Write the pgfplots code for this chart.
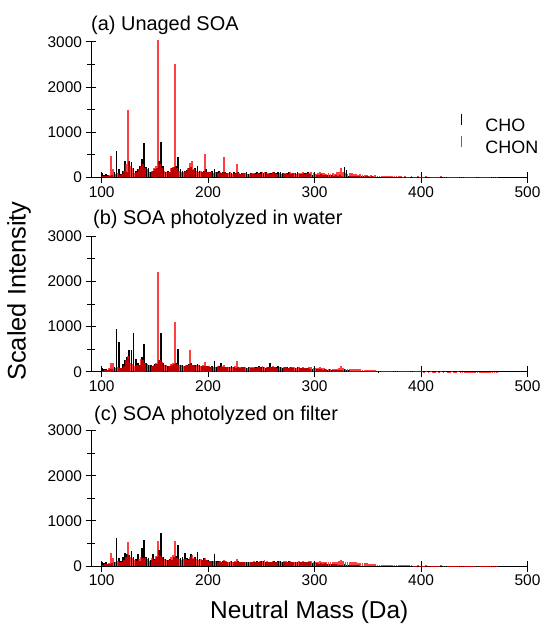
\documentclass[border=0pt]{standalone}
\usepackage{pgfplots}
\pgfplotsset{compat=1.18}
\usepackage{pgfplotstable}
\usepackage{fontspec}
\setmainfont{Liberation Sans}

% CHO (even nominal masses): m, panel a, panel b, panel c
\pgfplotstableread{
m a b c
100 90 80 80
102 60 70 70
104 80 60 80
106 50 40 40
108 40 50 50
110 60 60 60
112 120 100 100
114 593 948 615
116 185 652 185
118 80 90 110
120 150 180 200
122 370 260 296
124 120 330 260
126 370 481 250
128 330 481 333
130 200 852 200
132 150 274 150
134 180 200 259
136 250 150 120
138 407 318 393
140 770 607 570
142 222 200 200
144 210 160 180
146 120 150 130
148 150 130 259
150 180 170 160
152 200 180 200
154 355 260 356
156 778 852 741
158 260 200 200
160 130 140 150
162 150 120 130
164 120 130 160
166 200 150 140
168 220 180 210
170 250 200 220
172 459 496 474
174 180 160 170
176 150 140 200
178 140 130 296
180 170 150 180
182 200 170 160
184 230 190 259
186 160 150 150
188 200 160 200
190 260 180 318
192 140 140 150
194 120 130 140
196 150 130 180
198 180 120 130
200 130 120 130
202 110 110 120
204 140 130 110
206 185 230 260
208 120 110 120
210 150 120 110
212 100 190 100
214 120 110 120
216 110 100 110
218 90 100 90
220 130 110 100
222 100 120 110
224 120 100 100
226 90 90 90
228 110 100 110
230 80 90 90
232 100 110 100
234 90 100 80
236 110 90 100
238 80 100 90
240 100 80 100
242 70 90 80
244 90 100 90
246 120 110 110
248 100 120 100
250 130 110 120
252 90 100 110
254 110 90 100
256 80 110 90
258 100 185 100
260 90 100 90
262 120 110 110
264 90 100 90
266 130 120 120
268 110 100 110
270 100 90 100
272 80 110 90
274 90 100 100
276 110 90 110
278 80 100 80
280 100 90 90
282 90 80 100
284 120 100 90
286 70 80 80
288 80 90 90
290 100 80 80
292 90 90 90
294 110 80 100
296 70 70 80
298 60 60 70
300 70 60 60
302 60 50 60
304 50 60 50
306 70 50 60
308 50 40 50
310 60 50 60
312 50 40 40
314 60 50 50
316 50 40 40
318 40 30 40
320 50 40 40
322 40 30 30
324 50 40 30
326 40 30 30
328 220 50 40
330 170 30 30
332 40 30 20
334 30 20 20
336 40 20 20
338 30 20 20
340 25 15 15
342 30 15 15
344 20 10 10
346 25 15 10
348 20 10 10
350 20 10 10
352 15 10 10
354 20 10 10
356 15 10 10
358 15 10 10
360 10 5 5
}\chotab

% CHON (odd nominal masses): m, panel a, panel b, panel c
\pgfplotstableread{
m a b c
101 20 20 20
103 30 30 40
105 40 40 40
107 60 80 60
109 474 185 281
111 185 185 180
113 80 90 90
115 100 100 120
117 60 80 90
119 80 80 80
121 150 120 140
123 300 250 200
125 1481 355 533
127 250 200 200
129 200 180 180
131 100 120 130
133 120 140 120
135 180 150 150
137 250 280 200
139 300 250 190
141 200 200 170
143 180 180 150
145 120 140 120
147 150 130 180
149 200 150 140
151 250 200 220
153 3052 2215 563
155 300 250 220
157 200 220 200
159 150 150 150
161 130 140 130
163 120 120 140
165 200 180 200
167 240 200 250
169 2518 1104 548
171 200 180 180
173 150 160 150
175 130 140 140
177 120 130 150
179 150 140 160
181 200 150 140
183 326 474 200
185 370 160 240
187 180 140 170
189 150 150 150
191 130 140 140
193 140 130 150
195 120 140 140
197 525 207 180
199 130 130 130
201 120 120 120
203 110 110 120
205 100 110 110
207 120 100 120
209 90 120 100
211 110 110 110
213 100 120 100
215 451 150 130
217 100 110 110
219 90 100 100
221 110 110 110
223 80 100 100
225 100 120 110
227 303 230 160
229 90 110 100
231 80 100 90
233 100 110 100
235 90 100 90
237 70 90 80
239 80 100 90
241 100 110 100
243 90 100 110
245 70 90 90
247 100 110 100
249 80 100 110
251 110 120 120
253 120 110 130
255 90 100 110
257 100 110 100
259 80 100 90
261 110 120 110
263 90 100 100
265 70 90 90
267 100 110 110
269 80 100 100
271 90 100 110
273 100 110 120
275 80 90 100
277 110 100 110
279 90 100 100
281 100 110 100
283 80 90 90
285 100 100 110
287 90 90 100
289 110 100 110
291 70 80 90
293 90 90 100
295 100 100 110
297 110 110 110
299 90 90 100
301 80 80 90
303 100 90 100
305 110 100 110
307 90 80 100
309 100 80 100
311 80 70 90
313 90 70 100
315 70 60 90
317 100 70 100
319 80 60 90
321 110 70 100
323 130 80 110
325 200 120 130
327 120 80 110
329 90 70 100
331 80 60 90
333 100 70 100
335 90 60 90
337 80 60 80
339 70 50 80
341 60 50 70
343 70 50 70
345 60 40 60
347 50 40 60
349 60 40 60
351 40 30 50
353 50 30 50
355 40 30 40
357 45 30 40
359 35 25 30
361 40 25 35
363 30 20 30
365 35 20 30
367 30 20 25
369 25 15 25
371 30 15 20
373 25 15 20
375 20 15 20
377 25 15 20
379 20 10 20
381 20 10 15
383 15 10 15
385 20 10 15
387 15 10 15
389 15 10 15
391 20 10 15
393 15 10 10
395 15 10 10
397 20 10 15
399 15 10 10
401 15 10 10
403 10 5 10
405 20 10 15
407 10 5 10
409 15 10 10
411 10 5 10
413 10 5 10
415 15 10 10
417 10 5 10
419 20 10 15
421 10 5 10
423 15 10 10
425 10 5 10
427 10 5 10
429 15 10 10
431 10 5 10
433 10 5 10
435 15 10 10
437 10 5 5
439 10 5 10
441 10 5 5
443 15 5 10
445 10 5 5
447 10 5 5
449 10 5 5
451 10 5 5
453 10 5 5
455 15 5 5
457 10 5 5
459 10 5 5
461 5 5 5
463 10 5 5
465 5 5 5
467 10 5 5
469 5 5 5
471 10 5 5
}\chontab

\pgfplotsset{
  panel/.style={
    scale only axis, width=438pt, height=136pt, anchor=south west,
    xmin=90, xmax=500, ymin=0, ymax=3000,
    axis x line=bottom, axis y line=left,
    axis line style={-, line width=0.9pt},
    xtick={100,200,300,400,500},
    ytick={0,1000,2000,3000}, minor ytick={500,1500,2500},
    tick align=center, major tick length=11pt, minor tick length=8pt,
    every tick/.style={black, line width=0.9pt},
    clip=false,
    tick label style={font=\fontsize{15.5}{16}\selectfont},
    /pgf/number format/assume math mode=true,
    /pgf/number format/1000 sep={},
  },
  choleg/.style={legend image code/.code={\fill[black, opacity=1, draw=none] (-1pt,1pt) rectangle (1pt,12pt); \path[draw=none, fill=none] (0pt,0pt) -- (22pt,0pt);}},
  chonleg/.style={legend image code/.code={\fill[red!85!white, opacity=1, draw=none] (-1pt,1pt) rectangle (1pt,12pt); \path[draw=none, fill=none] (0pt,0pt) -- (22pt,0pt);}},
  cho/.style={ycomb, black, line width=1.8pt, no markers, choleg},
  chon/.style={ycomb, red, opacity=0.75, line width=1.8pt, no markers, chonleg},
}

\begin{document}
\begin{tikzpicture}
\path (0pt,0pt) rectangle (544pt,627pt);

\begin{axis}[panel, at={(91.3pt,449pt)},
  legend style={at={(rel axis cs:0.846,0.47)}, anchor=north west,
    draw=none, fill=none, inner sep=0pt, row sep=1pt,
    font=\fontsize{18}{18}\selectfont},
  legend cell align=left,
]
\addplot[cho] table[x=m,y=a]{\chotab};
\addplot[chon] table[x=m,y=a]{\chontab};
\legend{CHO,CHON}
\end{axis}

\begin{axis}[panel, at={(91.3pt,254pt)}]
\addplot[cho] table[x=m,y=b]{\chotab};
\addplot[chon] table[x=m,y=b]{\chontab};
\end{axis}

\begin{axis}[panel, at={(91.3pt,59pt)}]
\addplot[cho] table[x=m,y=c]{\chotab};
\addplot[chon] table[x=m,y=c]{\chontab};
\end{axis}

\node[anchor=base west, font=\fontsize{20}{20}\selectfont] at (88pt,596.3pt) {(a) Unaged SOA};
\node[anchor=base west, font=\fontsize{20}{20}\selectfont] at (90pt,401.3pt) {(b) SOA photolyzed in water};
\node[anchor=base west, font=\fontsize{20}{20}\selectfont] at (91pt,205pt) {(c) SOA photolyzed on filter};

\node[rotate=90, font=\fontsize{25.5}{26}\selectfont] at (19pt,335pt) {Scaled Intensity};
\node[anchor=base, font=\fontsize{24.5}{25}\selectfont] at (310.3pt,6.3pt) {Neutral Mass (Da)};
\end{tikzpicture}
\end{document}
